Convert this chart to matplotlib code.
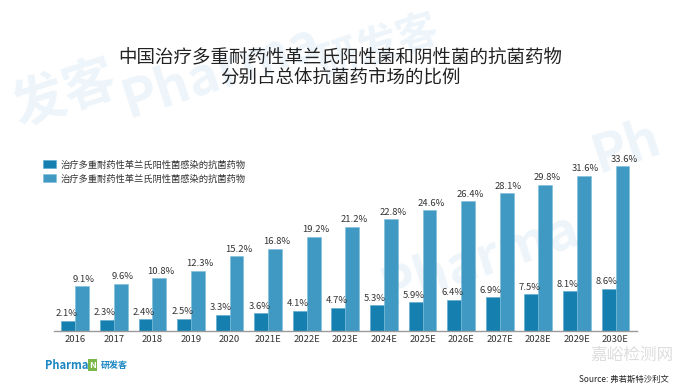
import matplotlib
matplotlib.use("Agg")
import matplotlib.pyplot as plt
import numpy as np

plt.rcParams['font.family'] = ['Noto Sans CJK SC', 'DejaVu Sans']

years = ['2016', '2017', '2018', '2019', '2020', '2021E', '2022E', '2023E',
         '2024E', '2025E', '2026E', '2027E', '2028E', '2029E', '2030E']
gram_pos = [2.1, 2.3, 2.4, 2.5, 3.3, 3.6, 4.1, 4.7, 5.3, 5.9, 6.4, 6.9, 7.5, 8.1, 8.6]
gram_neg = [9.1, 9.6, 10.8, 12.3, 15.2, 16.8, 19.2, 21.2, 22.8, 24.6, 26.4, 28.1, 29.8, 31.6, 33.6]
names = ['治疗多重耐药性革兰氏阳性菌感染的抗菌药物',
         '治疗多重耐药性革兰氏阴性菌感染的抗菌药物']
title = '中国治疗多重耐药性革兰氏阳性菌和阴性菌的抗菌药物\n分别占总体抗菌药市场的比例'

dark = '#1580b0'
light = '#3f99c3'

fig = plt.figure(figsize=(6.8, 3.91), dpi=100)

# faint watermarks, kept behind the chart
wm = '#eef5fa'
for (wx, wy, s, fs) in [(0.17, 0.70, 'Pharma', 38), (0.46, 0.80, '研发客', 30),
                        (0.55, 0.22, 'Pharma', 38), (0.01, 0.68, '发客', 38), (0.86, 0.56, 'Ph', 38)]:
    fig.text(wx, wy, s, fontsize=fs, color=wm, rotation=18, weight='bold', zorder=-5)

ax = fig.add_axes([0.0794, 0.1535, 0.857, 0.452])
ax.patch.set_alpha(0)
x = np.arange(len(years))
w = 0.36
b1 = ax.bar(x - w / 2, gram_pos, w, color=dark, edgecolor='#5aa8cf', linewidth=0.4, label=names[0])
b2 = ax.bar(x + w / 2, gram_neg, w, color=light, edgecolor='#7cbbd9', linewidth=0.4, label=names[1])

for xi, v in zip(x, gram_pos):
    ax.text(xi - w / 2 - 0.05, v + 0.5, '%.1f%%' % v, ha='center', va='bottom', fontsize=6.8, color='#333333')
for xi, v in zip(x, gram_neg):
    ax.text(xi + w / 2 + 0.05, v + 0.5, '%.1f%%' % v, ha='center', va='bottom', fontsize=6.8, color='#333333')

ax.set_xlim(-0.55, len(years) - 0.45)
ax.set_ylim(0, 36)
ax.set_xticks(x)
ax.set_xticklabels(years, fontsize=6.8, color='#333333')
ax.tick_params(axis='x', length=0, pad=3)
ax.set_yticks([])
for s in ['top', 'right', 'left']:
    ax.spines[s].set_visible(False)
ax.spines['bottom'].set_color('#9a9a9a')
ax.spines['bottom'].set_linewidth(1.0)

fig.legend(handles=[b1, b2], labels=names, loc='upper left',
           bbox_to_anchor=(0.058, 0.600), frameon=False, fontsize=6.7,
           handlelength=1.4, handleheight=1.0, handletextpad=0.5,
           labelspacing=0.5, borderaxespad=0, labelcolor='#333333')

fig.text(0.5, 0.825, title, ha='center', va='center', fontsize=13.3,
         weight='medium', color='#222222', linespacing=1.2)

fig.text(0.066, 0.066, 'Pharma', fontsize=8, weight='bold', color='#1a86c2', va='center')
fig.text(0.136, 0.066, 'N', fontsize=6.5, weight='bold', color='white', va='center', ha='center',
         bbox=dict(boxstyle='square,pad=0.15', fc='#7ab648', ec='none'))
fig.text(0.148, 0.066, '研发客', fontsize=6.5, weight='bold', color='#1a86c2', va='center')

fig.text(0.93, 0.092, '嘉峪检测网', fontsize=12, color='#dddddd', ha='center', va='center', zorder=-5)
fig.text(0.918, 0.031, 'Source: 弗若斯特沙利文', fontsize=6, style='italic', color='#222222',
         ha='center', va='center')

fig.savefig('out.png', dpi=100)
